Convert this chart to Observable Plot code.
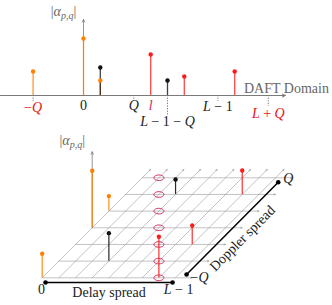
<!DOCTYPE html>
<html><head><meta charset="utf-8">
<script src="https://cdn.jsdelivr.net/npm/d3@7"></script>
<script src="https://cdn.jsdelivr.net/npm/@observablehq/plot@0.6"></script>
<style>
html,body{margin:0;padding:0;background:#fff;}
#chart{width:332px;height:305px;overflow:hidden;}
#chart svg{display:block;}
</style></head><body><div id="chart"></div>
<script>
// ---------------- data ----------------
const Q = 3;            // Doppler spread
const ell = 4;          // DAFT index l
const pathDelay   = [0, 0, 0, 3, 7, 3, 7, 7];          // p
const pathDoppler = [-3, 0, 1, -2, -3, 2, -1, 2];      // q
const pathAmp     = [2.4, 5.7, 1.5, 2.8, 4.1, 1.5, 1.9, 2.4]; // |alpha_{p,q}|
const pathGroup   = ["a", "a", "a", "b", "c", "b", "c", "c"];
const dopplerRows = [-3, -2, -1, 0, 1, 2, 3];
const delayCols   = [0, 1, 2, 3, 4, 5, 6, 7, 8];
const daftTickPos    = [-3, 0, 3, 4, 5, 8, 11];
const daftTickLabels = ["−Q", "0", "Q", "l", "L − 1 − Q", "L − 1", "L + Q"];
const ampLabel = "|α_{p,q}|";
const daftLabel = "DAFT Domain";
const delayLabel = "Delay spread";
const dopplerLabel = "Doppler spread";
const delayEndLabels = ["0", "L − 1"];
const dopplerEndLabels = ["−Q", "Q"];

// ---------------- styles / layout ----------------
const color = {a: "#ff8000", b: "#111111", c: "#ff1a1a"};
const pink = "#d02a5e";
const serif = "'Liberation Serif','DejaVu Serif',serif";
const FS = 14;
const paths = pathDelay.map((p, k) => ({p, q: pathDoppler[k], a: pathAmp[k], g: pathGroup[k]}));

// ---- top panel ----
const topPx = 16.8, topOrigin = 83, topH = 130, baseY = 95, ampPx = 10;
const daftEnd = 12.02, ampTop = 7.6;
const tickLen = [0.6, 0, 0.6, 0, 2.0, 0.6, 1.1];
const tickDy  = [12, 10, 10, 10, 26, 11, 18];
const tickFill = ["#ee1111", "#222", "#222", pink, "#222", "#222", "#ee1111"];

const topMarks = [
  Plot.ruleX(daftTickPos.map((x, k) => ({x, len: tickLen[k]})).filter(d => d.len > 0),
    {x: "x", y1: 0, y2: d => -d.len, stroke: "#555", strokeWidth: 0.8, strokeDasharray: "1.2,1.4"}),
  Plot.arrow([0], {x1: -topOrigin / topPx, y1: 0, x2: daftEnd, y2: 0, stroke: "#7a7a7a", strokeWidth: 1, headLength: 5, headAngle: 50}),
  Plot.arrow([0], {x1: 0, y1: 0, x2: 0, y2: ampTop, stroke: "#7a7a7a", strokeWidth: 0.8, headLength: 5, headAngle: 50}),
  Plot.ruleX(paths, {x: d => d.p + d.q, y1: 0, y2: "a", stroke: d => color[d.g], strokeWidth: 1.3, strokeOpacity: 0.8}),
  Plot.dot(paths, {x: d => d.p + d.q, y: "a", r: 2.2, fill: d => color[d.g]}),
  ...daftTickPos.map((x, k) => Plot.text([daftTickLabels[k]], {
    x: () => x, y: () => 0, text: d => d, dy: tickDy[k], fill: tickFill[k],
    fontFamily: serif, fontSize: FS, fontStyle: "italic"})),
  Plot.text([daftLabel], {x: () => daftEnd, y: () => 0, text: d => d, dx: 1, dy: -7,
    fill: "#666", fontFamily: serif, fontSize: FS}),
  Plot.text([ampLabel], {x: () => 0, y: () => ampTop, text: d => d, dx: -20, dy: -8,
    fill: "#666", fontFamily: serif, fontSize: FS, fontStyle: "italic"})
];

const topPlot = Plot.plot({
  width: 332, height: topH, margin: 0,
  x: {domain: [-topOrigin / topPx, (332 - topOrigin) / topPx], axis: null},
  y: {domain: [-(topH - baseY) / ampPx, baseY / ampPx], axis: null},
  marks: topMarks
});

// ---- bottom panel (oblique grid: X = p + q + Q, Y = q + Q) ----
const g = 16.67, ox = 41.7, oy = 147.3, botH = 175, ampToGrid = ampPx / g;
const ellipse = {draw(ctx) {
  const n = 36;
  for (let k = 0; k <= n; k++) {
    const t = 2 * Math.PI * k / n, x = 5 * Math.cos(t), y = 2.8 * Math.sin(t);
    k ? ctx.lineTo(x, y) : ctx.moveTo(x, y);
  }
  ctx.closePath();
}};
const diagLen = 2 * Q + 0.5;
const delayAxisX = [0.2, 7.82], delayAxisY = -0.28;
const dopAxisX = [8.66, 14.16], dopAxisY = [0.2, 5.73];
const gridStyle = {stroke: "#9a9a9a", strokeWidth: 0.6, headLength: 4, headAngle: 45};

const botMarks = [
  Plot.arrow(delayCols, {x1: p => p, y1: 0, x2: p => p + diagLen, y2: diagLen, ...gridStyle}),
  Plot.arrow(dopplerRows, {x1: q => q + Q, y1: q => q + Q, x2: q => q + Q + delayCols.length, y2: q => q + Q, ...gridStyle}),
  Plot.dot(dopplerRows, {x: () => ell + Q, y: q => q + Q, symbol: ellipse, stroke: pink, strokeWidth: 1, fill: "none"}),
  Plot.arrow([0], {x1: Q, y1: Q, x2: Q, y2: Q + ampTop * ampToGrid, stroke: "#7a7a7a", strokeWidth: 0.8, headLength: 5, headAngle: 50}),
  Plot.ruleX(paths, {x: d => d.p + d.q + Q, y1: d => d.q + Q, y2: d => d.q + Q + d.a * ampToGrid,
    stroke: d => color[d.g], strokeWidth: 1.2, strokeOpacity: 0.9}),
  Plot.dot(paths, {x: d => d.p + d.q + Q, y: d => d.q + Q + d.a * ampToGrid, r: 2.2, fill: d => color[d.g]}),
  Plot.link([0], {x1: delayAxisX[0], y1: delayAxisY, x2: delayAxisX[1], y2: delayAxisY, stroke: "#000", strokeWidth: 1.5}),
  Plot.dot(delayAxisX, {x: d => d, y: () => delayAxisY, r: 2.3, fill: "#000"}),
  Plot.link([0], {x1: dopAxisX[0], y1: dopAxisY[0], x2: dopAxisX[1], y2: dopAxisY[1], stroke: "#000", strokeWidth: 1.5}),
  Plot.dot(dopAxisX, {x: d => d, y: (d, k) => dopAxisY[k], r: 2.3, fill: "#000"}),
  Plot.text([delayEndLabels[0]], {x: () => delayAxisX[0], y: () => delayAxisY, text: d => d, dx: -4, dy: 7,
    fill: "#222", fontFamily: serif, fontSize: FS}),
  Plot.text([delayEndLabels[1]], {x: () => delayAxisX[1], y: () => delayAxisY, text: d => d, dx: 6, dy: 7,
    fill: "#222", fontFamily: serif, fontSize: FS, fontStyle: "italic"}),
  Plot.text([delayLabel], {x: () => (delayAxisX[0] + delayAxisX[1]) / 2, y: () => delayAxisY, text: d => d, dy: 10,
    fill: "#222", fontFamily: serif, fontSize: FS}),
  Plot.text([dopplerEndLabels[0]], {x: () => dopAxisX[0], y: () => dopAxisY[0], text: d => d, dx: 13, dy: 3,
    fill: "#222", fontFamily: serif, fontSize: FS, fontStyle: "italic"}),
  Plot.text([dopplerEndLabels[1]], {x: () => dopAxisX[1], y: () => dopAxisY[1], text: d => d, dx: 10, dy: -4,
    fill: "#222", fontFamily: serif, fontSize: FS, fontStyle: "italic"}),
  Plot.text([dopplerLabel], {x: () => (dopAxisX[0] + dopAxisX[1]) / 2, y: () => (dopAxisY[0] + dopAxisY[1]) / 2,
    text: d => d, dx: 10, dy: 10, rotate: -45, fill: "#222", fontFamily: serif, fontSize: FS}),
  Plot.text([ampLabel], {x: () => Q, y: () => Q + ampTop * ampToGrid, text: d => d, dx: -20, dy: -11,
    fill: "#666", fontFamily: serif, fontSize: FS, fontStyle: "italic"})
];

const botPlot = Plot.plot({
  width: 332, height: botH, margin: 0,
  x: {domain: [-ox / g, (332 - ox) / g], axis: null},
  y: {domain: [(oy - botH) / g, oy / g], axis: null},
  marks: botMarks
});

// math typesetting: letters italic, digits/operators upright, _{..} as subscript
function mathify(svg) {
  const ns = "http://www.w3.org/2000/svg";
  svg.querySelectorAll('g[font-style="italic"] text').forEach(el => {
    const src = el.textContent;
    el.textContent = "";
    const re = /_\{([^}]*)\}|./gu;
    let m, after = false;
    while ((m = re.exec(src))) {
      const ts = document.createElementNS(ns, "tspan");
      if (m[1] !== undefined) {
        ts.setAttribute("font-size", "10");
        ts.setAttribute("dy", "3");
        ts.textContent = m[1];
        after = true;
      } else {
        ts.textContent = m[0];
        if (!/[A-Za-zα]/.test(m[0])) ts.setAttribute("font-style", "normal");
        if (after) { ts.setAttribute("dy", "-3"); after = false; }
      }
      el.appendChild(ts);
    }
  });
}
mathify(topPlot);
mathify(botPlot);
document.getElementById("chart").append(topPlot, botPlot);
</script></body></html>
